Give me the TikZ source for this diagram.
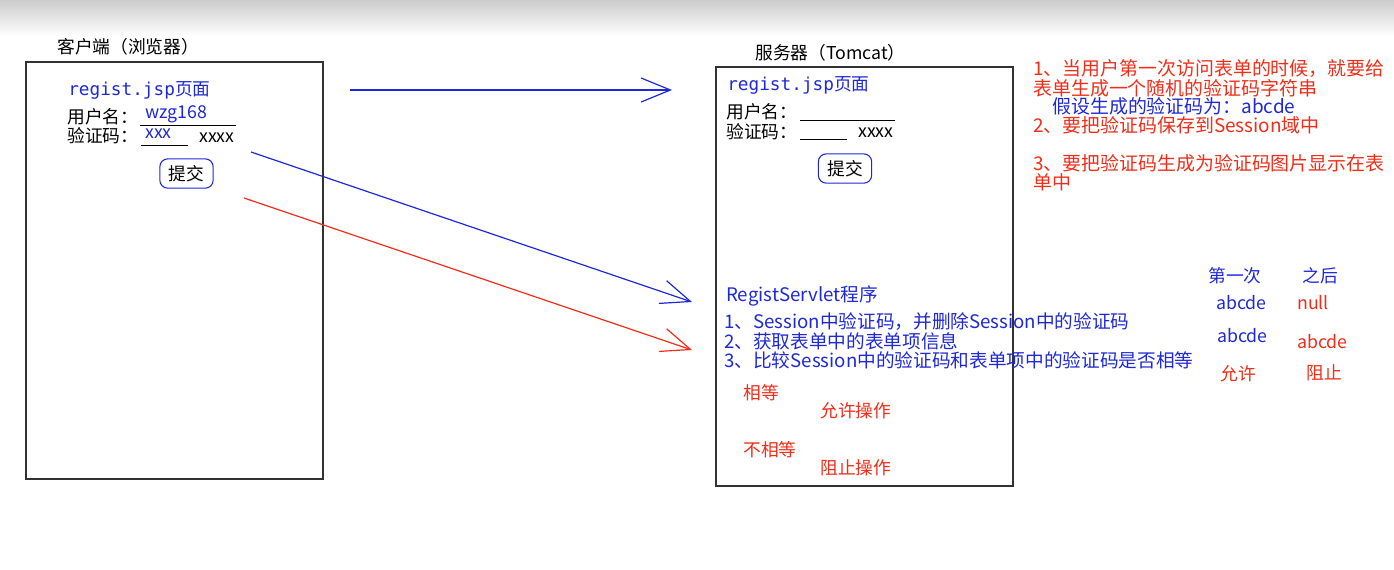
\documentclass[tikz,border=0pt]{standalone}
\usepackage{fontspec}
\setmainfont{Noto Sans CJK SC}
\newfontfamily\monofont{DejaVu Sans Mono}
\usetikzlibrary{arrows.meta,positioning,calc}
\definecolor{NoteBlue}{RGB}{30,40,215}
\definecolor{NoteRed}{RGB}{240,45,25}
\definecolor{BoxGray}{RGB}{50,50,50}

\tikzset{
  txt/.style={inner sep=0pt,anchor=west,font=\fontsize{13.3}{15}\selectfont},
  steptxt/.style={inner sep=0pt,anchor=west,font=\fontsize{14}{16}\selectfont},
  note/.style={inner sep=0pt,anchor=west,font=\fontsize{14.2}{16}\selectfont},
  pagebox/.style={draw=BoxGray,line width=1pt},
  field/.style={line width=0.7pt},
  submitbtn/.style={draw=NoteBlue,line width=0.8pt,rounded corners=6pt,
    minimum width=40pt,minimum height=22pt,inner sep=0pt,
    font=\fontsize{13.3}{15}\selectfont},
  flow/.style={line width=0.9pt,-{Straight Barb[length=22pt,width=18pt,line width=0.9pt]}}
}

\begin{document}
\begin{tikzpicture}[x=0.75pt,y=-0.75pt]
  \useasboundingbox (0,0) rectangle (1394,569);
  \shade[top color=black!20,bottom color=white] (0,0) rectangle (1394,36);

  % browser side
  \draw[pagebox] (26,62) rectangle (323,479);
  \node[txt] (cliTitle) at (57,47) {客户端（浏览器）};
  \node[txt,NoteBlue] (cliPage) at (68,90) {{\monofont regist.jsp}页面};
  \node[txt] (cliUser) at (67,117) {用户名：};
  \node[txt,NoteBlue] (cliUserVal) at (145,114) {wzg168};
  \draw[field] (140,125) -- (236,125);
  \node[txt] (cliCode) at (67,136) {验证码：};
  \node[txt,NoteBlue] (cliCodeVal) at (145,134) {xxx};
  \draw[field] (141,145) -- (188,145);
  \node[txt] (cliImg) at (199,138) {xxxx};
  \node[submitbtn] (cliBtn) at (186.5,173.5) {提交};

  % server side
  \draw[pagebox] (716,67) rectangle (1013,486);
  \node[txt] (srvTitle) at (755,53) {服务器（Tomcat）};
  \node[txt,NoteBlue] (srvPage) at (727,85) {{\monofont regist.jsp}页面};
  \node[txt] (srvUser) at (726,112) {用户名：};
  \draw[field] (800,120) -- (895,120);
  \node[txt] (srvCode) at (726,132) {验证码：};
  \draw[field] (800,139) -- (847,139);
  \node[txt] (srvImg) at (858,133) {xxxx};
  \node[submitbtn] (srvBtn) at (845,168.5) {提交};

  \node[steptxt,NoteBlue] (servlet) at (726,296) {RegistServlet程序};
  \node[steptxt,NoteBlue] (step1) at (724,322) {1、Session中验证码，并删除Session中的验证码};
  \node[steptxt,NoteBlue] (step2) at (724,341) {2、获取表单中的表单项信息};
  \node[steptxt,NoteBlue] (step3) at (724,360) {3、比较Session中的验证码和表单项中的验证码是否相等};

  \node[txt,NoteRed] (eq) at (743,393) {相等};
  \node[txt,NoteRed] (allowOp) at (820,411) {允许操作};
  \node[txt,NoteRed] (neq) at (743,450) {不相等};
  \node[txt,NoteRed] (denyOp) at (820,468) {阻止操作};

  % notes on the right
  \node[note,NoteRed] (n1a) at (1033,69) {1、当用户第一次访问表单的时候，就要给};
  \node[note,NoteRed] (n1b) at (1033,88) {表单生成一个随机的验证码字符串};
  \node[note,NoteBlue] (n1c) at (1052,106) {假设生成的验证码为：abcde};
  \node[note,NoteRed] (n2) at (1033,125) {2、要把验证码保存到Session域中};
  \node[note,NoteRed] (n3a) at (1033,163) {3、要把验证码生成为验证码图片显示在表};
  \node[note,NoteRed] (n3b) at (1033,182) {单中};

  % first visit / afterwards
  \node[txt,NoteBlue] (first) at (1208,276) {第一次};
  \node[txt,NoteBlue] (after) at (1302,276) {之后};
  \node[txt,NoteBlue] (s1) at (1216,303) {abcde};
  \node[txt,NoteRed] (s2) at (1297,303) {null};
  \node[txt,NoteBlue] (f1) at (1217,336) {abcde};
  \node[txt,NoteRed] (f2) at (1297,342) {abcde};
  \node[txt,NoteRed] (r1) at (1220,374) {允许};
  \node[txt,NoteRed] (r2) at (1306,373) {阻止};

  % requests
  \coordinate (getFrom) at (350,90);
  \coordinate (getTo) at (672,90);
  \coordinate (postFrom) at (251,152);
  \coordinate (postTo) at (692,302);
  \coordinate (cmpFrom) at (244,198);
  \coordinate (cmpTo) at (692,350);
  \draw[flow,NoteBlue] (getFrom) -- (getTo);
  \draw[flow,NoteBlue] (postFrom) -- (postTo);
  \draw[flow,NoteRed] (cmpFrom) -- (cmpTo);
\end{tikzpicture}
\end{document}
